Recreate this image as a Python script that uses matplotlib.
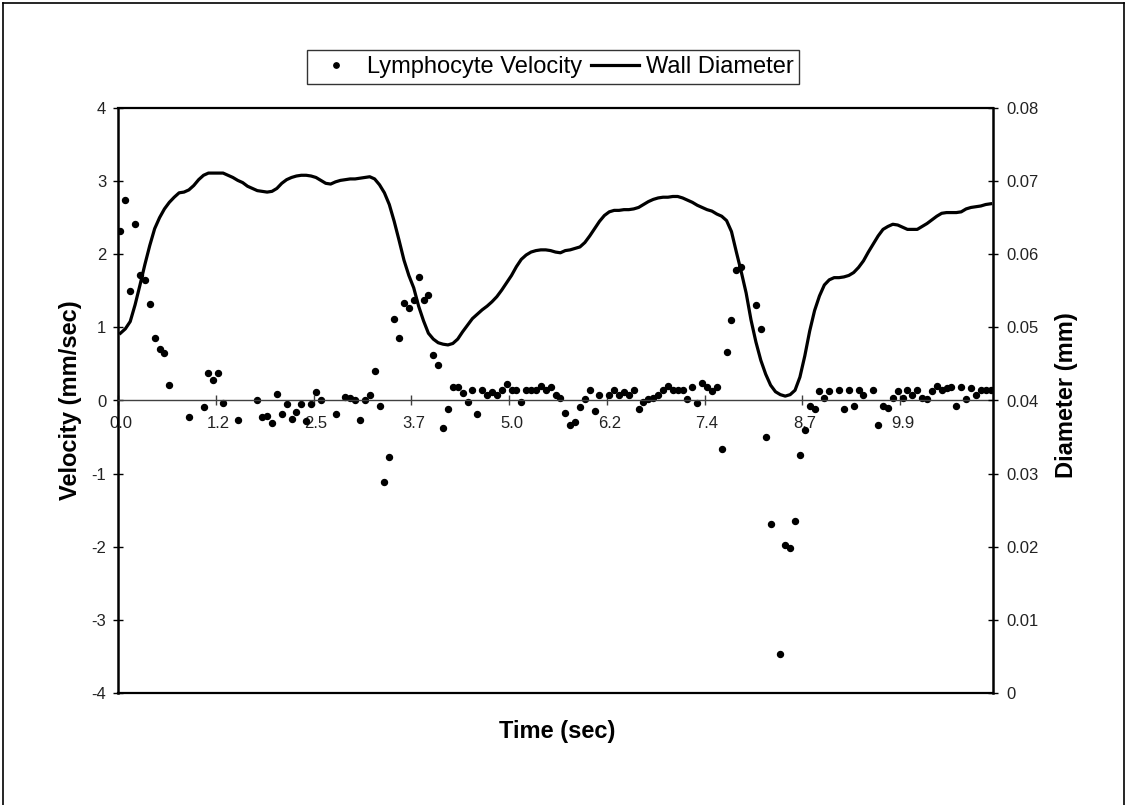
import numpy as np
import matplotlib.pyplot as plt
from matplotlib.lines import Line2D

plt.rcParams['font.family'] = ['Liberation Sans', 'DejaVu Sans']
plt.rcParams['axes.unicode_minus'] = False

# Lymphocyte velocity per frame (mm/sec); None where no cell was tracked
velocity = [
    2.32, 2.74, 1.50, 2.42, 1.72, 1.65, 1.32, 0.85, 0.70, 0.65,
    0.21, None, None, None, -0.22, None, None, -0.09, 0.37, 0.28,
    0.37, -0.04, None, None, -0.26, None, None, None, 0.01, -0.22,
    -0.21, -0.31, 0.09, -0.18, -0.05, -0.25, -0.16, -0.05, -0.28, -0.05,
    0.12, 0.01, None, None, -0.18, None, 0.05, 0.04, 0.01, -0.27,
    0.01, 0.08, 0.40, -0.08, -1.12, -0.77, 1.11, 0.85, 1.33, 1.26,
    1.37, 1.69, 1.38, 1.44, 0.62, 0.48, -0.37, -0.12, 0.18, 0.18,
    0.10, -0.02, 0.14, -0.19, 0.15, 0.08, 0.11, 0.08, 0.15, 0.22,
    0.14, 0.14, -0.02, 0.14, 0.14, 0.14, 0.20, 0.15, 0.18, 0.07,
    0.03, -0.17, -0.34, -0.30, -0.09, 0.02, 0.14, -0.14, 0.08, None,
    0.08, 0.15, 0.08, 0.12, 0.08, 0.14, -0.12, -0.02, 0.02, 0.04,
    0.08, 0.15, 0.20, 0.14, 0.14, 0.14, 0.02, 0.19, -0.03, 0.24,
    0.19, 0.13, 0.18, -0.66, 0.67, 1.10, 1.79, 1.82, None, None,
    1.30, 0.98, -0.50, -1.69, None, -3.47, -1.97, -2.02, -1.65, -0.75,
    -0.40, -0.07, -0.11, 0.13, 0.04, 0.13, None, 0.15, -0.12, 0.15,
    -0.08, 0.14, 0.08, None, 0.15, -0.34, -0.08, -0.10, 0.04, 0.13,
    0.04, 0.14, 0.08, 0.15, 0.04, 0.02, 0.13, 0.20, 0.15, 0.17,
    0.19, -0.08, 0.19, 0.02, 0.17, 0.08, 0.14, 0.14, 0.14,
]

# Vessel wall diameter per frame (mm)
diameter = [
    0.0492, 0.0498, 0.0508, 0.0531, 0.0558, 0.0586, 0.0612, 0.0635, 0.0650, 0.0662,
    0.0671, 0.0678, 0.0684, 0.0685, 0.0688, 0.0694, 0.0702, 0.0708, 0.0711, 0.0711,
    0.0711, 0.0711, 0.0708, 0.0705, 0.0701, 0.0698, 0.0693, 0.0690, 0.0687, 0.0686,
    0.0685, 0.0686, 0.0690, 0.0697, 0.0702, 0.0705, 0.0707, 0.0708, 0.0708, 0.0707,
    0.0705, 0.0701, 0.0697, 0.0696, 0.0699, 0.0701, 0.0702, 0.0703, 0.0703, 0.0704,
    0.0705, 0.0706, 0.0703, 0.0695, 0.0684, 0.0668, 0.0645, 0.0619, 0.0592, 0.0571,
    0.0554, 0.0529, 0.0509, 0.0492, 0.0484, 0.0479, 0.0477, 0.0476, 0.0478, 0.0484,
    0.0494, 0.0503, 0.0512, 0.0518, 0.0524, 0.0529, 0.0535, 0.0542, 0.0551, 0.0561,
    0.0571, 0.0583, 0.0593, 0.0599, 0.0603, 0.0605, 0.0606, 0.0606, 0.0605, 0.0603,
    0.0602, 0.0605, 0.0606, 0.0608, 0.0610, 0.0616, 0.0625, 0.0635, 0.0645, 0.0653,
    0.0658, 0.0660, 0.0660, 0.0661, 0.0661, 0.0662, 0.0664, 0.0668, 0.0672, 0.0675,
    0.0677, 0.0678, 0.0678, 0.0679, 0.0679, 0.0677, 0.0674, 0.0671, 0.0667, 0.0664,
    0.0661, 0.0659, 0.0655, 0.0652, 0.0646, 0.0631, 0.0603, 0.0576, 0.0547, 0.0510,
    0.0480, 0.0455, 0.0436, 0.0421, 0.0412, 0.0408, 0.0406, 0.0408, 0.0414, 0.0432,
    0.0461, 0.0495, 0.0523, 0.0543, 0.0558, 0.0565, 0.0568, 0.0568, 0.0569, 0.0571,
    0.0575, 0.0582, 0.0591, 0.0603, 0.0614, 0.0625, 0.0634, 0.0638, 0.0641, 0.0640,
    0.0637, 0.0634, 0.0634, 0.0634, 0.0638, 0.0642, 0.0647, 0.0652, 0.0656, 0.0657,
    0.0657, 0.0657, 0.0658, 0.0662, 0.0664, 0.0665, 0.0666, 0.0668, 0.0669,
]

# time labels shown every 20 frames
time_labels = ['0.0', '1.2', '2.5', '3.7', '5.0', '6.2', '7.4', '8.7', '9.9']
label_step = 20

vel_ticks = [-4, -3, -2, -1, 0, 1, 2, 3, 4]
diam_ticks = [0, 0.01, 0.02, 0.03, 0.04, 0.05, 0.06, 0.07, 0.08]
diam_tick_labels = ['0', '0.01', '0.02', '0.03', '0.04', '0.05', '0.06', '0.07', '0.08']

W, H = 1127, 805
n = len(velocity)
frames = np.arange(n) + 0.5
vel = np.array([np.nan if v is None else v for v in velocity])

fig = plt.figure(figsize=(W / 100, H / 100), dpi=100)
ax = fig.add_axes([118 / W, 1 - 693 / H, 875 / W, 585 / H])
ax2 = ax.twinx()

dots, = ax.plot(frames, vel, 'o', ms=4.3, color='black', ls='none',
                label='Lymphocyte Velocity')
line, = ax2.plot(frames, diameter, '-', lw=2.3, color='black',
                 label='Wall Diameter')

ax.set_xlim(0, n)
ax.set_ylim(-4, 4)
ax2.set_ylim(0, 0.08)

# category axis sits on velocity zero, ticks at frame boundaries
ax.spines['bottom'].set_position(('data', 0))
ax.spines['bottom'].set_linewidth(1.0)
ax.spines['bottom'].set_color('#404040')
ax.spines['top'].set_linewidth(1.6)
ax.spines['left'].set_linewidth(1.8)
ax.spines['right'].set_visible(False)
for side in ['top', 'left']:
    ax2.spines[side].set_visible(False)
ax2.spines['right'].set_linewidth(1.8)
ax2.spines['bottom'].set_linewidth(1.6)

ax.set_xticks(np.arange(0, n, label_step))
ax.set_xticklabels([])
ax.set_xticks(np.arange(0, n, label_step) + 0.5, minor=True)
ax.set_xticklabels(time_labels, minor=True)
ax.tick_params(axis='x', which='major', direction='inout', length=7, width=1,
               color='#404040')
ax.tick_params(axis='x', which='minor', length=0, pad=11, labelsize=12,
               labelcolor='#222222')

ax.set_yticks(vel_ticks)
ax.set_yticklabels([str(v) for v in vel_ticks])
ax.tick_params(axis='y', direction='inout', length=7, width=1, pad=5,
               labelsize=12, labelcolor='#222222')
ax2.set_yticks(diam_ticks)
ax2.set_yticklabels(diam_tick_labels)
ax2.tick_params(axis='y', direction='inout', length=7, width=1, pad=6,
                labelsize=12, labelcolor='#222222')

fig.text(70 / W, 1 - 400 / H, 'Velocity (mm/sec)', rotation=90, ha='center',
         va='center', fontsize=17, fontweight='bold')
fig.text(1066 / W, 1 - 395 / H, 'Diameter (mm)', rotation=90, ha='center',
         va='center', fontsize=17, fontweight='bold')
fig.text(557 / W, 1 - 731 / H, 'Time (sec)', ha='center', va='center',
         fontsize=17, fontweight='bold')

leg = fig.legend([dots, line], ['Lymphocyte Velocity', 'Wall Diameter'],
                 loc='center', bbox_to_anchor=(553 / W, 1 - 67 / H), ncol=2,
                 fontsize=17, frameon=True, fancybox=False, edgecolor='black',
                 numpoints=1, markerscale=0.9, handlelength=2.0,
                 handletextpad=0.3, columnspacing=0.4, borderpad=0.25,
                 borderaxespad=0)
leg.get_frame().set_linewidth(1.0)

# chart frame
for xs, ys in [([3, 3], [3, H + 5]), ([3, 1124], [3, 3]), ([1124, 1124], [3, H + 5])]:
    fig.add_artist(Line2D([x / W for x in xs], [1 - y / H for y in ys],
                          color='black', lw=1.2))

fig.savefig('out.png', dpi=100)
